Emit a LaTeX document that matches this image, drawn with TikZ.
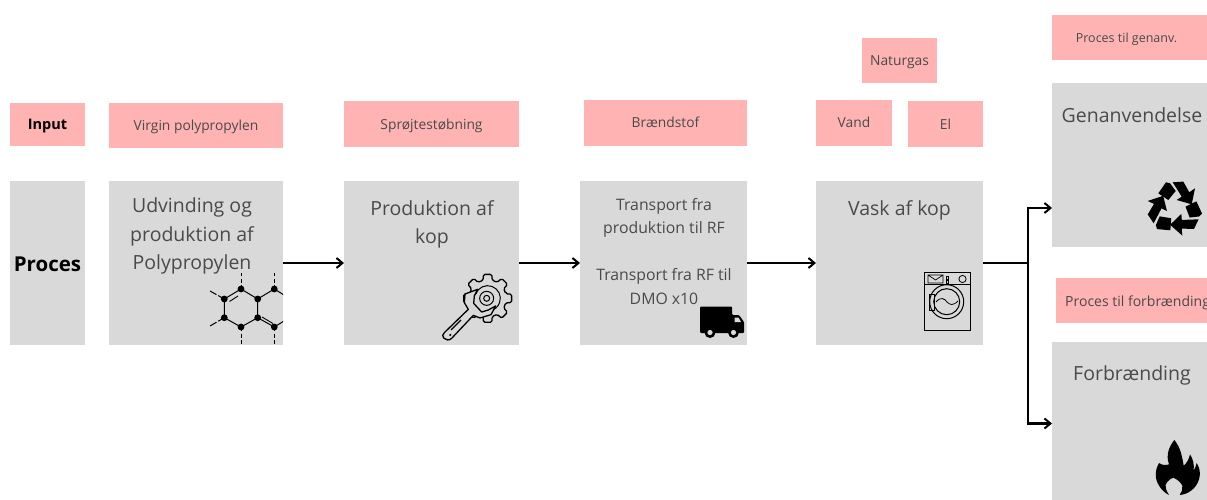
\documentclass[tikz,border=0pt]{standalone}
\usepackage{fontspec}
\setmainfont{Open Sans}
\usetikzlibrary{arrows.meta}
\definecolor{pinkbox}{HTML}{FFB3B3}
\definecolor{greybox}{HTML}{D9D9D9}
\definecolor{softtext}{HTML}{4A4A4A}
\tikzset{
  blockbase/.style={rectangle,inner sep=0pt,outer sep=0pt,text=softtext},
  pinkblock/.style={blockbase,fill=pinkbox,text height=14pt,text depth=4pt,font=\fontsize{13.8}{17}\selectfont},
  greyblock/.style={blockbase,fill=greybox},
  bigtext/.style={text=softtext,inner sep=0pt,align=center,font=\fontsize{19.5}{28.5}\selectfont},
  midtext/.style={text=softtext,inner sep=0pt,align=center,font=\fontsize{15.8}{23.3}\selectfont},
  flowarrow/.style={draw=black,line width=2.2pt,-{Straight Barb[length=6pt,width=10pt,line width=2pt]}},
  flowline/.style={draw=black,line width=2.2pt},
  icon/.style={draw=black,line width=1.3pt,line join=round},
}
\begin{document}
\begin{tikzpicture}[x=1pt,y=-1pt]
\useasboundingbox (0,0) rectangle (1207,500);
\clip (0,0) rectangle (1207,500);
% input row
\node[pinkblock,minimum width=75pt,minimum height=43pt,text=black,font=\fontsize{14.5}{17}\selectfont\bfseries] (input) at (47.5,124.5) {Input};
\node[pinkblock,minimum width=174pt,minimum height=45pt] (virgin) at (196,125.5) {Virgin polypropylen};
\node[pinkblock,minimum width=175pt,minimum height=46pt] (sproejt) at (431.5,124) {Sprøjtestøbning};
\node[pinkblock,minimum width=163pt,minimum height=46pt] (braend) at (665.5,123) {Brændstof};
\node[pinkblock,minimum width=76pt,minimum height=46pt] (vand) at (854,123) {Vand};
\node[pinkblock,minimum width=75pt,minimum height=46pt] (el) at (945.5,124) {El};
\node[pinkblock,minimum width=75pt,minimum height=45pt] (naturgas) at (899.5,60.5) {Naturgas};
\node[pinkblock,minimum width=160pt,minimum height=45pt] (genanvinput) at (1132,37.5) {};
\node[text=softtext,inner sep=0pt,text height=14pt,text depth=4pt,font=\fontsize{12.5}{17}\selectfont] (genanvlabel) at (1126.5,38) {Proces til genanv.};
\node[pinkblock,minimum width=160pt,minimum height=45pt] (forbrinput) at (1136,300.5) {};
\node[text=softtext,inner sep=0pt,anchor=west,text height=14pt,text depth=4pt,font=\fontsize{14}{17}\selectfont] (forbrlabel) at (1065,301) {Proces til forbrænding};
% process row
\node[greyblock,minimum width=75pt,minimum height=164pt,text=black,text height=20pt,text depth=4pt,font=\fontsize{20.5}{24}\selectfont\bfseries] (proces) at (47.5,263) {Proces};
\node[greyblock,minimum width=174pt,minimum height=164pt] (udv) at (196,263) {};
\node[greyblock,minimum width=175pt,minimum height=164pt] (prod) at (431.5,263) {};
\node[greyblock,minimum width=167pt,minimum height=164pt] (trans) at (663.5,263) {};
\node[greyblock,minimum width=167pt,minimum height=164pt] (vask) at (899.5,263) {};
\node[greyblock,minimum width=165pt,minimum height=164pt] (genanv) at (1134.5,165) {};
\node[greyblock,minimum width=165pt,minimum height=170pt] (forbr) at (1134.5,427) {};
% texts
\node[bigtext] (udvtxt) at (192,236) {Udvinding og\\produktion af\\Polypropylen};
\node[bigtext] (prodtxt) at (432,224.5) {Produktion af\\kop};
\node[midtext] (transtxta) at (664,218) {Transport fra\\produktion til RF};
\node[midtext] (transtxtb) at (664,286.5) {Transport fra RF til\\DMO x10};
\node[bigtext] (vasktxt) at (899.5,210) {Vask af kop};
\node[bigtext] (gentxt) at (1132,115) {Genanvendelse};
\node[bigtext] (forbtxt) at (1132,375) {Forbrænding};
% connectors
\draw[flowarrow] (udv.east) -- (prod.west);
\draw[flowarrow] (prod.east) -- (trans.west);
\draw[flowarrow] (trans.east) -- (vask.west);
\coordinate (split) at (1028,263);
\coordinate (gtarget) at (1052,208);
\coordinate (ftarget) at (1052,423.5);
\draw[flowline] (vask.east) -- (split);
\draw[flowarrow] (split) |- (gtarget);
\draw[flowarrow] (split) |- (ftarget);
% molecule icon
\begin{scope}
\clip (udv.south west) rectangle (udv.north east);
\draw[black,line width=1pt] (241,289) -- (224.3,299) -- (224.3,317.7) -- (241,327) -- (257.7,317.7) -- (257.7,299) -- cycle;
\draw[black,line width=1pt] (257.7,299) -- (274.3,289) -- (284,295);
\draw[black,line width=1pt] (257.7,317.7) -- (274.3,327) -- (284,321);
\draw[black,line width=.9pt] (229.5,301.5) -- (238,296);
\draw[black,line width=.9pt] (262,317) -- (273,323.5);
\draw[black,line width=1pt,dash pattern=on 4pt off 2.5pt] (241,289) -- (241,273);
\draw[black,line width=1pt,dash pattern=on 4pt off 2.5pt] (274.3,289) -- (274.3,273);
\draw[black,line width=1pt,dash pattern=on 4pt off 2.5pt] (241,327) -- (241,345);
\draw[black,line width=1pt,dash pattern=on 4pt off 2.5pt] (274.3,327) -- (274.3,345);
\draw[black,line width=1pt,dash pattern=on 7pt off 2pt on 3pt off 0pt] (224.3,299) -- (210,291);
\draw[black,line width=1pt,dash pattern=on 7pt off 2pt on 3pt off 0pt] (224.3,317.7) -- (210,326);
\fill[black] (241,289) circle (3.4) (224.3,299) circle (3.4) (224.3,317.7) circle (3.4) (241,327) circle (3.4) (257.7,317.7) circle (3.4) (257.7,299) circle (3.4) (274.3,289) circle (3.4) (274.3,327) circle (3.4);
\end{scope}
% gear and wrench icon (crop coordinates, 3x)
\begin{scope}[shift={(435,270)},x=.3333pt,y=-.3333pt]
\begin{scope}[shift={(158,85)}]
\draw[icon,rounded corners=1.5pt] (-14:56)
  \foreach \a in {0,45,...,315}{ -- ({\a-14}:56) -- ({\a-10}:73) -- ({\a+10}:73) -- ({\a+14}:56) } -- cycle;
\draw[black,line width=1pt] (-160:38) arc[start angle=-160,end angle=80,radius=38];
\end{scope}
\draw[icon,fill=greybox] (28,188) -- (100,118) -- (88,98) -- (90,72) -- (128,58) -- (118,78) -- (116,100) -- (140,126) -- (160,120) -- (182,108) -- (168,134) -- (135,144) -- (115,136) -- (50,205) .. controls (42,213) and (32,210) .. (26,204) .. controls (22,198) and (22,194) .. (28,188) -- cycle;
\draw[black,line width=1pt] (155,85) circle (21) (155,85) circle (9);
\draw[black,line width=1.1pt] (48,180) -- (78,150);
\fill[black] (46,195) circle (3.5);
\end{scope}
% truck icon
\fill[black,rounded corners=1pt] (700,306.5) -- (732,306.5) -- (732,315) -- (739,315) -- (744,322) -- (744,333) -- (700,333) -- cycle;
\fill[greybox] (734.5,317.5) -- (738.5,317.5) -- (741,322) -- (734.5,322) -- cycle;
\fill[black] (710,332.5) circle (5.5) (733.5,332.5) circle (5.5);
\fill[greybox] (710,332.5) circle (2.6) (733.5,332.5) circle (2.6);
% washing machine icon
\draw[black,line width=1pt] (924.3,272.3) rectangle (970,330);
\draw[black,line width=1pt] (924.3,284) -- (970,284);
\draw[black,line width=.7pt] (928,275) rectangle (943,283) (928,275) -- (935.5,280) -- (943,275);
\draw[black,line width=.7pt] (946,276) rectangle (948,279) (946,280) rectangle (948,283);
\draw[black,line width=.8pt] (962.5,279) circle (3.6);
\draw[black,line width=1pt] (946.7,301.7) circle (17) (946.7,301.7) circle (13);
\draw[black,line width=.8pt] (929.5,294) rectangle (934.5,310);
\draw[black,line width=.8pt] (936,302) .. controls (941,296) and (945,299) .. (947,302) .. controls (950,305) and (953,306) .. (958,301);
% recycling icon
\begin{scope}[shift={(1175,208.3)}]
\foreach \rr in {0,120,240}{
\fill[black,rotate=\rr] (-16.7,-15) -- (-9,-26) -- (-5,-25) -- (.7,-17.3) -- (-6.7,-8.3) -- cycle;
\fill[black,rotate=\rr] (-2.3,-26) -- (8.3,-26.7) -- (14.3,-16) -- (20,-20) -- (16.7,-4) -- (1.7,-8.3) -- (6.7,-11.7) -- cycle;
}
\end{scope}
% flame icon (crop coordinates, 3x)
\begin{scope}[shift={(1145,435)},x=.3333pt,y=-.3333pt]
\fill[black] (88,15) .. controls (72,35) and (62,60) .. (72,88) .. controls (62,92) and (50,90) .. (42,84) .. controls (30,105) and (28,130) .. (42,152) .. controls (50,165) and (60,174) .. (72,180) .. controls (62,165) and (58,150) .. (66,142) .. controls (72,134) and (78,130) .. (85,128) .. controls (95,132) and (108,142) .. (112,152) .. controls (114,162) and (110,172) .. (104,180) .. controls (130,178) and (155,160) .. (163,130) .. controls (168,112) and (162,95) .. (155,84) .. controls (154,92) and (150,100) .. (146,106) .. controls (148,88) and (144,72) .. (135,58) .. controls (132,72) and (126,84) .. (116,92) .. controls (112,70) and (108,38) .. (88,15) -- cycle;
\end{scope}
\end{tikzpicture}
\end{document}
